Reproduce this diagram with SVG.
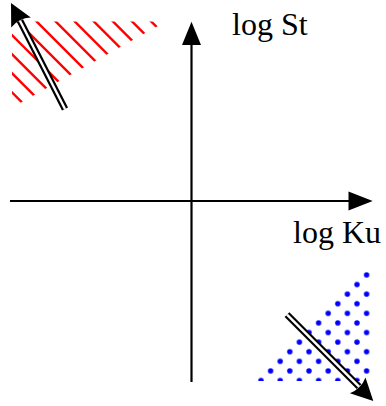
<svg xmlns="http://www.w3.org/2000/svg" width="386" height="406" viewBox="0 0 386 406">
  <style>
    .axis { stroke: #000; stroke-width: 2.2; fill: none; }
    .head { fill: #000; stroke: none; }
    .hatch { stroke: #ff0000; stroke-width: 2.4; fill: none; }
    .dbl-outer { stroke: #000; stroke-width: 6.8; fill: none; }
    .dbl-inner { stroke: #fff; stroke-width: 2.4; fill: none; }
    .lbl { font-family: "Liberation Serif", "Times New Roman", serif; font-size: 32px; fill: #000; }
  </style>
  <defs>
    <clipPath id="clipRed">
      <polygon points="12,21.5 166,21.5 12,107.5"/>
    </clipPath>
    <clipPath id="clipBlue">
      <polygon points="255,381 372,381 372,264"/>
    </clipPath>
    <pattern id="dots" patternUnits="userSpaceOnUse" x="256.2" y="375.7" width="19.2" height="19.2">
      <circle cx="4.8" cy="4.8" r="2.7" fill="#0000ff"/>
      <circle cx="14.4" cy="14.4" r="2.7" fill="#0000ff"/>
    </pattern>
  </defs>

  <g id="red-region" clip-path="url(#clipRed)">
    <path class="hatch" d="M-99.5,0 L20.5,120 M-80.4,0 L39.6,120 M-61.3,0 L58.7,120 M-42.2,0 L77.8,120 M-23.1,0 L96.9,120 M-4,0 L116,120 M15.1,0 L135.1,120 M34.2,0 L154.2,120 M53.3,0 L173.3,120 M72.4,0 L192.4,120 M91.5,0 L211.5,120 M110.6,0 L230.6,120 M129.7,0 L249.7,120 M148.8,0 L268.8,120"/>
  </g>

  <g id="blue-region">
    <polygon points="255,381 372,381 372,264" fill="url(#dots)" clip-path="url(#clipBlue)"/>
  </g>

  <g id="connectors">
    <g id="axis-x">
      <line class="axis" x1="10" y1="201" x2="351" y2="201"/>
      <path class="head" d="M372.7,201 L348.5,191.5 L348.5,210.5 Z"/>
    </g>
    <g id="axis-y">
      <line class="axis" x1="191.5" y1="382" x2="191.5" y2="43"/>
      <path class="head" d="M191.5,21.7 L201,45 L182,45 Z"/>
    </g>
    <g id="arrow-upper-left">
      <line class="dbl-outer" x1="65" y1="109" x2="20" y2="20.7"/>
      <line class="dbl-inner" x1="65" y1="109" x2="20" y2="20.7"/>
      <path class="head" d="M11,3 L30.8,17.6 Q18.7,18.1 11.2,27.6 Z"/>
    </g>
    <g id="arrow-lower-right">
      <line class="dbl-outer" x1="287" y1="314.7" x2="359" y2="386.7"/>
      <line class="dbl-inner" x1="287" y1="314.7" x2="359" y2="386.7"/>
      <path class="head" d="M373.3,401 L365.5,377.6 Q361.2,388.9 349.9,393.2 Z"/>
    </g>
  </g>

  <g id="label-st">
    <text class="lbl" x="232" y="35">log St</text>
  </g>
  <g id="label-ku">
    <text class="lbl" x="293" y="242.5">log Ku</text>
  </g>
</svg>
